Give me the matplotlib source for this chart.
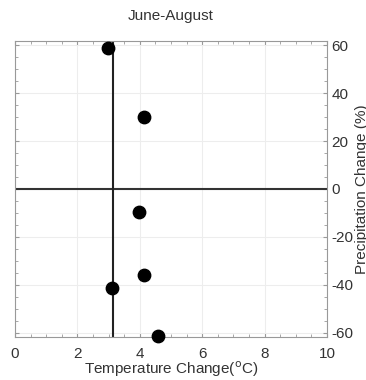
#Scatter of temperature vs precipitation change, June-August
import numpy as np
import matplotlib.pyplot as plt
from matplotlib.ticker import MultipleLocator

plt.rcParams['font.family'] = ['Liberation Sans', 'DejaVu Sans']
plt.rcParams['axes.unicode_minus'] = False

#Data
temp_change = [2.99, 4.14, 3.98, 4.13, 3.10, 4.58]
precip_change = [59, 30, -9.5, -36, -41.5, -61.5]
ref_temp = 3.15
title = 'June-August'
xlabel = r'Temperature Change($^{\mathrm{o}}$C)'
ylabel = 'Precipitation Change (%)'

fig = plt.figure(figsize=(3.66, 3.80), dpi=100)
ax = fig.add_axes([15/366, 1-337/380, 312/366, 296/380])

#Grid and reference lines
ax.grid(True, color='#ededed', lw=0.8)
ax.set_axisbelow(True)
ax.axhline(0, color='#333333', lw=1.5, zorder=2)
ax.axvline(ref_temp, color='#222222', lw=1.5, zorder=2)

#Points
ax.scatter(temp_change, precip_change, s=80, color='black', zorder=3, clip_on=False)

ax.set_xlim(0, 10)
ax.set_ylim(-61.8, 61.8)
ax.xaxis.set_major_locator(MultipleLocator(2))
ax.xaxis.set_minor_locator(MultipleLocator(0.5))
ax.yaxis.set_major_locator(MultipleLocator(20))
ax.yaxis.set_minor_locator(MultipleLocator(5))

ax.yaxis.tick_right()
ax.yaxis.set_label_position('right')
ax.tick_params(which='both', direction='in', top=True, bottom=True, left=True, right=True,
               color='#999999', labelcolor='#333333', labelsize=11)
ax.tick_params(axis='x', which='major', pad=7)
ax.tick_params(axis='y', which='major', pad=3)
ax.tick_params(which='major', length=3)
ax.tick_params(which='minor', length=2)
for s in ax.spines.values():
    s.set_color('#999999')

ax.set_title(title, fontsize=11, color='#333333', pad=15)
ax.set_xlabel(xlabel, fontsize=11, color='#333333', labelpad=-1)
ax.set_ylabel(ylabel, fontsize=11, color='#333333', labelpad=1)

fig.savefig('out.png', dpi=100)
